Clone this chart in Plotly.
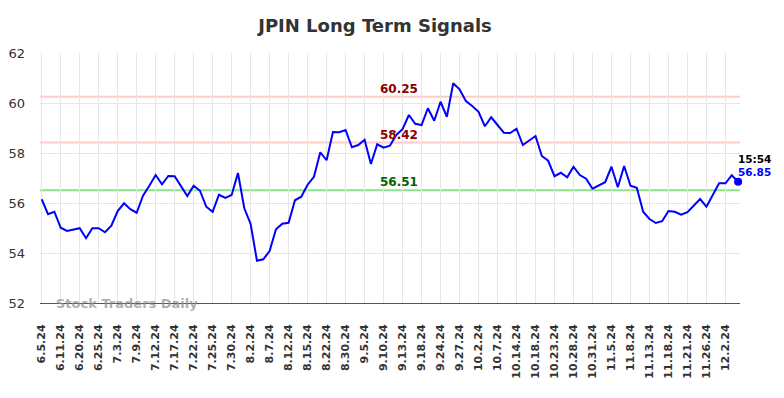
import plotly.graph_objects as go

title_text = "JPIN Long Term Signals"

tick_labels = ["6.5.24", "6.11.24", "6.20.24", "6.25.24", "7.3.24", "7.9.24", "7.12.24",
               "7.17.24", "7.22.24", "7.25.24", "7.30.24", "8.2.24", "8.7.24", "8.12.24",
               "8.15.24", "8.22.24", "8.30.24", "9.5.24", "9.10.24", "9.13.24", "9.18.24",
               "9.24.24", "9.27.24", "10.2.24", "10.7.24", "10.14.24", "10.18.24", "10.23.24",
               "10.28.24", "10.31.24", "11.5.24", "11.8.24", "11.13.24", "11.18.24",
               "11.21.24", "11.26.24", "12.2.24"]

values = [56.15, 55.55, 55.65, 55.01, 54.88, 54.92, 54.99, 54.59, 54.99, 54.99,
          54.83, 55.09, 55.68, 55.99, 55.75, 55.61, 56.29, 56.69, 57.12, 56.75,
          57.08, 57.07, 56.65, 56.28, 56.69, 56.49, 55.85, 55.65, 56.33, 56.20,
          56.32, 57.20, 55.79, 55.16, 53.69, 53.75, 54.08, 54.95, 55.17, 55.21,
          56.11, 56.25, 56.73, 57.05, 58.03, 57.71, 58.84, 58.83, 58.92, 58.23,
          58.32, 58.53, 57.56, 58.35, 58.21, 58.29, 58.72, 58.95, 59.52, 59.17,
          59.12, 59.79, 59.29, 60.05, 59.45, 60.79, 60.55, 60.08, 59.88, 59.65,
          59.07, 59.43, 59.12, 58.81, 58.80, 58.97, 58.32, 58.49, 58.68, 57.88,
          57.69, 57.07, 57.21, 57.03, 57.45, 57.12, 56.97, 56.57, 56.69, 56.83,
          57.45, 56.63, 57.48, 56.69, 56.61, 55.65, 55.36, 55.20, 55.27, 55.68,
          55.65, 55.53, 55.63, 55.89, 56.16, 55.85, 56.29, 56.79, 56.79, 57.11,
          56.85]

tick_step = 3
resistance_levels = [60.25, 58.42]
support_levels = [56.51]
last_time = "15:54"
y_ticks = [52, 54, 56, 58, 60, 62]

x = list(range(len(values)))
tick_positions = [i * tick_step for i in range(len(tick_labels))]

# page body has an 8px margin; figure is sized to fit the 784x398 window
W, H = 776, 390

fig = go.Figure()

fig.add_trace(go.Scatter(x=x, y=values, mode="lines",
                         line=dict(color="#0000ff", width=2), hoverinfo="skip",
                         showlegend=False))
fig.add_trace(go.Scatter(x=[x[-1]], y=[values[-1]], mode="markers", cliponaxis=False,
                         marker=dict(color="#0000ff", size=8), showlegend=False))

for lvl in resistance_levels:
    fig.add_hline(y=lvl, line=dict(color="rgba(255,180,180,0.7)", width=2), layer="below")
    fig.add_annotation(x=56.5, y=lvl, text=f"{lvl:.2f}", showarrow=False,
                       xanchor="center", yanchor="middle", yshift=8,
                       font=dict(family="DejaVu Sans", size=12, color="#8b0000", weight="bold"))
for lvl in support_levels:
    fig.add_hline(y=lvl, line=dict(color="rgba(120,220,120,0.85)", width=2), layer="below")
    fig.add_annotation(x=56.5, y=lvl, text=f"{lvl:.2f}", showarrow=False,
                       xanchor="center", yanchor="middle", yshift=8,
                       font=dict(family="DejaVu Sans", size=12, color="#006400", weight="bold"))

fig.add_annotation(x=x[-1], y=values[-1], text=last_time, showarrow=False,
                   xanchor="left", yanchor="middle", yshift=23, xshift=-2,
                   font=dict(family="DejaVu Sans", size=10.5, color="#000000", weight="bold"))
fig.add_annotation(x=x[-1], y=values[-1], text=f"{values[-1]:.2f}", showarrow=False,
                   xanchor="left", yanchor="middle", yshift=10, xshift=-2,
                   font=dict(family="DejaVu Sans", size=10.5, color="#0000ff", weight="bold"))

fig.add_annotation(xref="paper", yref="paper", x=(54 - 40) / 700, y=0, text="Stock Traders Daily",
                   showarrow=False, xanchor="left", yanchor="middle",
                   font=dict(family="DejaVu Sans", size=13, color="rgba(140,140,140,0.7)", weight="bold"))

fig.update_layout(
    width=W, height=H,
    margin=dict(l=32, r=44, t=45, b=95),
    paper_bgcolor="white", plot_bgcolor="white",
    title=dict(text=title_text, x=(375 - 8) / W, xanchor="center", y=1 - (26 - 8) / H,
               yanchor="middle",
               font=dict(family="DejaVu Sans", size=18, color="#333333", weight="bold")),
    xaxis=dict(range=[-0.27, 110.3], tickmode="array", tickvals=tick_positions,
               ticktext=tick_labels, tickangle=-90, showgrid=True, gridcolor="#e6e6e6",
               gridwidth=1, zeroline=False, showline=True, linecolor="#555555", linewidth=1,
               ticks="", ticklabelstandoff=16, automargin=False,
               tickfont=dict(family="DejaVu Sans", size=11, color="#333333", weight="bold")),
    yaxis=dict(range=[52, 62], tickvals=y_ticks, showgrid=True, gridcolor="#e6e6e6",
               gridwidth=1, zeroline=False, showline=False, ticks="", ticklabelstandoff=14,
               automargin=False,
               tickfont=dict(family="DejaVu Sans", size=13, color="#333333")),
)

fig.write_html("out.html")
